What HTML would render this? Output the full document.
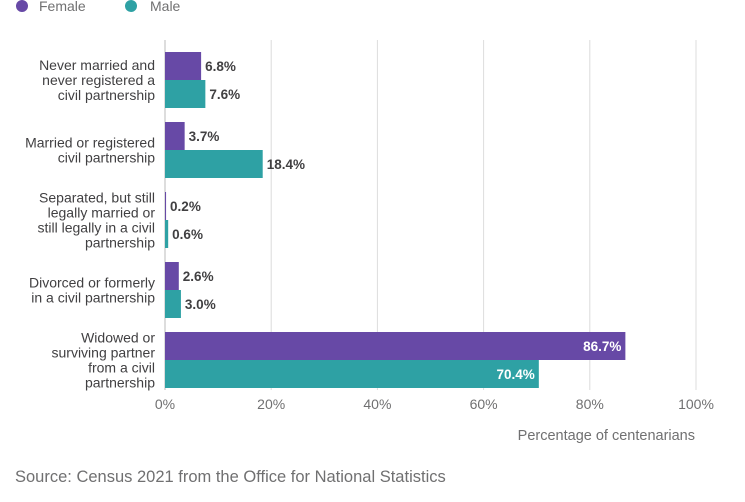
<!DOCTYPE html>
<html><head><meta charset="utf-8"><style>
body{margin:0;background:#fff;width:745px;height:497px;overflow:hidden;font-family:"Liberation Sans",sans-serif}
svg text{font-family:"Liberation Sans",sans-serif}
</style></head><body>
<svg id="c" width="745" height="497">
<g>
<circle cx="22" cy="6" r="6" fill="#6749a6"/>
<text x="39" y="11" font-size="14" fill="#707071">Female</text>
<circle cx="131" cy="6" r="6" fill="#2ea1a4"/>
<text x="150" y="11" font-size="14" fill="#707071">Male</text>
</g>
<g id="grid"></g><g id="bars"></g><g id="labels"></g>
<text x="695" y="440" text-anchor="end" font-size="14.5" fill="#707071">Percentage of centenarians</text>
<text x="15" y="482" font-size="16.5" fill="#707071">Source: Census 2021 from the Office for National Statistics</text>
</svg>
<script>
const categories=[["Never married and","never registered a","civil partnership"],["Married or registered","civil partnership"],["Separated, but still","legally married or","still legally in a civil","partnership"],["Divorced or formerly","in a civil partnership"],["Widowed or","surviving partner","from a civil","partnership"]];
const female=[6.8,3.7,0.2,2.6,86.7];
const male=[7.6,18.4,0.6,3.0,70.4];
const ticks=[0,20,40,60,80,100];
const NS="http://www.w3.org/2000/svg";
const x=v=>165+v*5.31;
const gy=i=>52+i*70;
function mk(t,a,p){const e=document.createElementNS(NS,t);for(const k in a)e.setAttribute(k,a[k]);p.appendChild(e);return e;}
const G=document.getElementById('grid'),B=document.getElementById('bars'),L=document.getElementById('labels');
ticks.forEach(t=>{
 const l=mk('line',{x1:x(t),x2:x(t),y1:40,y2:390,stroke:t===0?'#bbb':'#dcdcdc','stroke-width':1},G);
 
 
 const tx=mk('text',{x:x(t),y:409,'text-anchor':'middle','font-size':14,fill:'#707071'},G);
 tx.textContent=t+'%';
 
 
});
categories.forEach((c,i)=>{
 const y0=gy(i);
 const tl=mk('text',{x:155,'text-anchor':'end','font-size':14,fill:'#414042'},L);
 
 
 const n=c.length, start=y0+28-(n-1)*7.5+5;
 c.forEach((s,j)=>{const ts=mk('tspan',{x:155,y:start+j*15},tl);ts.textContent=s;});
 [[female[i],'#6749a6',0,'female'],[male[i],'#2ea1a4',28,'male']].forEach(([v,col,off,nm])=>{
  const r=mk('rect',{x:x(0),y:y0+off,width:Math.max(x(v)-x(0),1),height:28,fill:col},B);
  
  
  const inside=v>30;
  const t=mk('text',{x:inside?x(v)-4:x(v)+4,y:y0+off+19,'text-anchor':inside?'end':'start','font-size':13.5,'font-weight':'bold',fill:inside?'#fff':'#414042'},L);
  t.textContent=v.toFixed(1)+'%';
  
  
 });
});
</script>
</body></html>
